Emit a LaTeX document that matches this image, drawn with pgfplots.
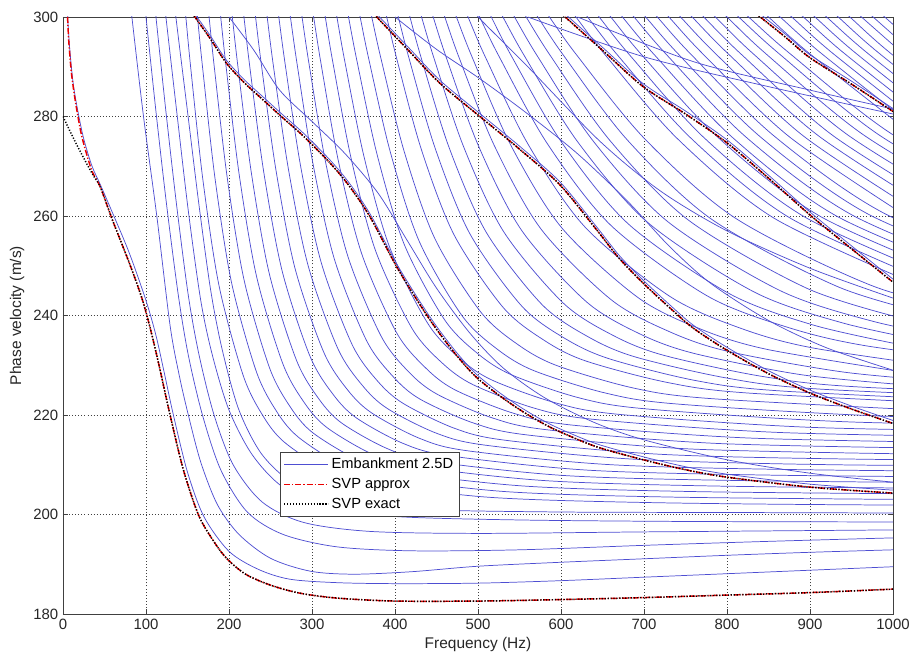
\documentclass[border=0pt]{standalone}
\usepackage{fontspec}
\setmainfont{Liberation Sans}
\usepackage{pgfplots}
\pgfplotsset{compat=1.18}
\definecolor{mblue}{RGB}{78,78,210}
\definecolor{svpred}{RGB}{235,0,0}
\pgfplotsset{
  emb/.style={mblue, line width=0.55pt, smooth},
  embf/.style={emb, forget plot},
  svpa/.style={svpred, line width=1.1pt, smooth, dash pattern=on 4.5pt off 1.5pt on 0.9pt off 1.5pt},
  svpe/.style={black, line width=1.1pt, smooth, dash pattern=on 0.9pt off 1.3pt},
}
\begin{document}
\begin{tikzpicture}
\begin{axis}[
  scale only axis, width=622.5pt, height=447.75pt,
  xmin=0, xmax=1000, ymin=180, ymax=300,
  xtick={0,100,...,1000}, ytick={180,200,...,300},
  grid=major,
  major grid style={black!75, line width=0.5pt, dash pattern=on 0.7pt off 1.6pt},
  axis line style={black!75, line width=0.5pt},
  tick style={black!75, line width=0.5pt}, tick align=inside, major tick length=4pt,
  /pgf/number format/assume math mode=true,
  /pgf/number format/1000 sep={},
  tick label style={font=\fontsize{11.2}{13}\selectfont, black!85},
  label style={font=\fontsize{11.6}{13}\selectfont, black!85},
  xlabel={Frequency (Hz)}, ylabel={Phase velocity (m/s)},
  xlabel style={at={(axis description cs:0.5,-0.0519)}, anchor=center},
  ylabel style={at={(axis description cs:-0.0552,0.5)}, anchor=center},
  legend style={at={(axis description cs:0.2614,0.2714)}, anchor=north west,
    draw=black!75, fill=white, font=\fontsize{11}{13}\selectfont, inner sep=2.5pt, row sep=1.6pt},
  legend cell align=left,
  legend image code/.code={\draw[#1] (0pt,0pt) -- (33pt,0pt);},
]
% ---- embankment 2.5D, lower family
\addplot[emb] coordinates {(4,306)(7,296)(12,287)(18,281)(25,275.5)(35,270)(45,266.3)(60,260.5)(80,252.5)(100,243)(112,236)(122,228.5)(133,220)(150,208.5)(170,199.5)(200,192.6)(235,189)(273,187)(330,186.3)(400,186.1)(500,186.2)(600,186.7)(700,187.4)(800,188.1)(900,188.8)(1000,189.5)};
\addplot[embf] coordinates {(80,305)(83,300)(97,280)(113,260)(129,238)(140,228)(151,220)(166,210.5)(186,202)(212,196)(250,191.2)(298,188.6)(350,188)(420,188.5)(500,189.6)(600,190.4)(700,191.1)(800,191.8)(900,192.4)(1000,192.9)};
\addplot[embf] coordinates {(97,305)(100,300)(112,281)(125,262)(139,244)(151,232)(168,220)(190,209)(222,200.5)(265,196)(330,193.5)(420,192.7)(550,192.9)(700,193.8)(850,194.6)(1000,195.3)};
\addplot[embf] coordinates {(109,305)(112,300)(124,281)(137,262)(151,244)(164,232)(182,220)(205,210)(240,202.5)(290,198.4)(370,196.6)(500,196.2)(700,196.5)(1000,196.9)};
\addplot[embf] coordinates {(121,305)(124,300)(137,281)(151,261)(166,243)(180,232)(200,221)(228,212)(265,205.5)(320,201.5)(400,199.6)(550,198.9)(750,198.6)(1000,198.5)};
\addplot[embf] coordinates {(133,305)(136,300)(150,281)(164,262)(178,245)(192,233)(212,221)(240,212)(280,206)(340,202.5)(430,201)(600,200.5)(800,200.4)(1000,200.3)};
% ---- group B
\addplot[embf] coordinates {(144.2,306.6)(148,300)(154,289.6)(168.6,267.2)(188.1,245.9)(217.4,227.8)(241.8,219.6)(266.2,214.6)(315,209.2)(363.8,206.6)(510,203.5)(705,202.4)(998,201.9)(1486,201.7)};
\addplot[embf] coordinates {(158.2,306.5)(162,300)(168.2,289.8)(183.2,267.5)(203.2,246.5)(233.2,228.6)(258.2,220.5)(283.2,215.6)(333.2,210.2)(383.2,207.6)(533.2,204.6)(733.2,203.5)(1033,203.0)};
\addplot[embf] coordinates {(172,306.4)(176,300)(182.3,289.9)(197.7,267.9)(218.2,247.1)(249,229.4)(274.7,221.4)(300.4,216.5)(351.7,211.3)(403,208.6)(557,205.7)(762.4,204.6)(1070,204.1)};
\addplot[embf] coordinates {(185.9,306.3)(190,300)(196.5,290)(212.3,268.3)(233.4,247.7)(265.1,230.2)(291.5,222.3)(317.8,217.5)(370.6,212.3)(423.4,209.7)(581.6,206.8)(792.7,205.7)(1109,205.2)};
\addplot[embf] coordinates {(199.8,306.3)(204,300)(210.7,290.1)(227,268.6)(248.7,248.3)(281.3,231)(308.4,223.2)(335.6,218.4)(389.9,213.3)(444.2,210.7)(607.1,207.8)(824.3,206.8)(1150,206.3)};
\addplot[embf] coordinates {(213.7,306.2)(218,300)(224.9,290.2)(241.7,269)(264.1,248.9)(297.6,231.8)(325.6,224.1)(353.6,219.4)(409.6,214.3)(465.6,211.8)(633.5,208.9)(857.3,207.9)(1193,207.4)};
\addplot[embf] coordinates {(227.6,306.1)(232,300)(239.1,290.3)(256.4,269.4)(279.5,249.5)(314.2,232.6)(343.1,225)(372,220.4)(429.7,215.3)(487.5,212.8)(660.8,210)(891.8,209)(1238,208.5)};
\addplot[embf] coordinates {(241.4,306.1)(246,300)(253.3,290.4)(271.3,269.7)(295.2,250.1)(331,233.4)(360.9,225.9)(390.8,221.3)(450.5,216.3)(510.3,213.9)(689.5,211.1)(928.5,210)(1287,209.6)};
\addplot[embf] coordinates {(255.2,306)(260,300)(267.6,290.6)(286.2,270.1)(311,250.7)(348.2,234.2)(379.1,226.8)(410.1,222.3)(472.1,217.3)(534,214.9)(719.9,212.1)(967.7,211.1)(1339,210.7)};
\addplot[embf] coordinates {(269,305.9)(274,300)(281.9,290.7)(301.2,270.5)(327,251.3)(365.6,235)(397.8,227.7)(430,223.2)(494.3,218.4)(558.7,216)(751.8,213.2)(1009.3,212.2)};
\addplot[embf] coordinates {(282.8,305.8)(288,300)(296.2,290.8)(316.4,270.8)(343.2,251.9)(383.4,235.8)(416.9,228.6)(450.5,224.2)(517.5,219.4)(584.6,217)(785.7,214.3)(1053.9,213.3)};
\addplot[embf] coordinates {(296.6,305.8)(302,300)(310.6,290.9)(331.6,271.2)(359.7,252.5)(401.7,236.6)(436.7,229.5)(471.7,225.1)(541.8,220.4)(611.8,218)(822,215.4)(1102,214.4)};
\addplot[embf] coordinates {(310.3,305.7)(316,300)(325,291)(347.1,271.6)(376.4,253.1)(420.5,237.4)(457.2,230.4)(493.9,226.1)(567.3,221.4)(640.7,219.1)(861,216.5)(1154.7,215.5)};
\addplot[embf] coordinates {(324.1,305.6)(330,300)(339.5,291.1)(362.7,271.9)(393.6,253.7)(439.9,238.3)(478.5,231.3)(517.1,227)(594.3,222.4)(671.5,220.1)(903.2,217.5)(1212,216.6)};
\addplot[embf] coordinates {(337.7,305.5)(344,300)(354,291.3)(378.5,272.3)(411.1,254.3)(459.9,239.1)(500.7,232.2)(541.4,228)(622.9,223.4)(704.3,221.2)(948.8,218.6)(1274.6,217.7)};
\addplot[embf] coordinates {(351.3,305.5)(358,300)(368.6,291.4)(394.6,272.7)(429.2,254.9)(481,239.9)(524.2,233.1)(567.5,228.9)(653.9,224.4)(740.4,222.2)(999.8,219.7)(1345.7,218.75)};
\addplot[embf] coordinates {(364.9,305.4)(372,300)(383.3,291.5)(411,273)(447.9,255.5)(503.3,240.7)(549.4,234)(595.5,229.9)(687.8,225.4)(780.1,223.3)(1056.8,220.8)};
% ---- group C
\addplot[embf] coordinates {(382.4,305.3)(390,300)(402.1,291.6)(431.7,273.4)(471.2,256.2)(530.4,241.6)(579.8,235)(629.1,230.9)(727.8,226.55)(826.5,224.4)(1122.5,221.9)};
\addplot[embf] coordinates {(395.9,305.3)(404,300)(416.9,291.7)(448.4,273.6)(490.3,256.4)(553.2,241.8)(605.6,235.3)(658.1,231.3)(762.9,226.9)(867.8,224.8)(1182,222.3)};
\addplot[embf] coordinates {(409.4,305.3)(418,300)(431.7,291.7)(465.3,273.7)(510,256.7)(577.1,242.2)(632.9,235.7)(688.8,231.7)(800.6,227.4)(912.4,225.2)(1247.8,222.8)};
\addplot[embf] coordinates {(422.8,305.2)(432,300)(446.8,291.8)(482.7,273.9)(530.7,256.9)(602.7,242.5)(662.7,236)(722.6,232.05)(842.6,227.75)(962.5,225.6)(1322,223.2)};
\addplot[embf] coordinates {(436,305.2)(446,300)(461.9,291.8)(500.8,274)(552.6,257.1)(630.3,242.8)(695,236.3)(759.8,232.4)(889.3,228.1)(1018.8,226)};
\addplot[embf] coordinates {(449.2,305.2)(460,300)(477.3,291.8)(519.5,274.2)(575.8,257.4)(660.2,243.2)(730.6,236.75)(800.9,232.8)(941.6,228.6)(1082.3,226.5)};
\addplot[embf] coordinates {(462.1,305.1)(474,300)(493,291.9)(539.3,274.3)(601,257.6)(693.6,243.5)(770.7,237.1)(847.9,233.2)(1002.2,228.9)};
\addplot[embf] coordinates {(474.8,305.1)(488,300)(509,291.9)(560.4,274.4)(628.8,257.8)(731.5,243.8)(817,237.4)(902.6,233.5)(1073.7,229.3)};
\addplot[embf] coordinates {(487.2,305.1)(502,300)(525.6,292)(583.3,274.6)(660.2,258.1)(775.5,244)(871.6,237.7)(967.7,233.9)(1160,229.7)};
\addplot[embf] coordinates {(500.5,305.1)(516,300)(540.8,292)(601.2,274.7)(681.8,258.3)(802.7,244.4)(903.5,238.1)(1004.2,234.3)};
\addplot[embf] coordinates {(513.6,305)(530,300)(556.2,292.1)(620.1,274.9)(705.2,258.6)(833,244.7)(939.4,238.5)(1045.9,234.65)};
\addplot[embf] coordinates {(526.7,305)(544,300)(571.7,292.1)(639.1,275)(729.1,258.8)(864,245)(976.5,238.8)(1089,235)};
\addplot[embf] coordinates {(539.7,305)(558,300)(587.3,292.2)(658.8,275.2)(754.1,259.1)(897.1,245.4)(1016.3,239.2)};
\addplot[embf] coordinates {(552.4,304.9)(572,300)(603.4,292.2)(679.8,275.3)(781.8,259.3)(934.7,245.7)(1062.2,239.5)};
\addplot[embf] coordinates {(565,304.9)(586,300)(619.6,292.2)(701.5,275.4)(810.7,259.5)(974.5,246)(1111,239.85)};
% ---- group D
\addplot[embf] coordinates {(595.7,304.9)(618,300)(653.6,292.3)(740.5,275.5)(856.3,259.6)(1030,246.1)};
\addplot[embf] coordinates {(609.3,304.9)(632,300)(668.3,292.3)(756.8,275.6)(874.9,259.7)(1051.9,246.2)};
\addplot[embf] coordinates {(622.8,304.9)(646,300)(683,292.3)(773.2,275.6)(893.6,259.8)(1074,246.4)};
\addplot[embf] coordinates {(636.4,304.9)(660,300)(697.7,292.3)(789.8,275.7)(912.6,259.9)(1096.7,246.5)};
\addplot[embf] coordinates {(649.9,304.9)(674,300)(712.5,292.4)(806.5,275.8)(931.8,260)(1119.7,246.7)};
\addplot[embf] coordinates {(663.4,304.8)(688,300)(727.3,292.4)(823.3,275.8)(951.2,260.15)(1143,246.8)};
\addplot[embf] coordinates {(676.8,304.8)(702,300)(742.2,292.4)(840.2,275.9)(970.9,260.3)(1166.9,247)};
\addplot[embf] coordinates {(690.3,304.8)(716,300)(757.1,292.4)(857.3,276)(990.9,260.4)(1191,247.1)};
\addplot[embf] coordinates {(703.7,304.8)(730,300)(772,292.4)(874.5,276)(1011.1,260.5)};
\addplot[embf] coordinates {(717.1,304.8)(744,300)(787,292.5)(891.9,276.1)(1031.8,260.6)};
\addplot[embf] coordinates {(730.4,304.8)(758,300)(802.1,292.5)(909.5,276.2)(1052.8,260.7)};
\addplot[embf] coordinates {(743.7,304.8)(772,300)(817.2,292.5)(927.3,276.2)(1074.2,260.8)};
\addplot[embf] coordinates {(757,304.7)(786,300)(832.3,292.5)(945.4,276.3)(1096,260.9)};
\addplot[embf] coordinates {(770.2,304.7)(800,300)(847.6,292.5)(963.6,276.4)(1118,261)};
\addplot[embf] coordinates {(783.4,304.7)(814,300)(862.9,292.6)(982.2,276.4)(1141,261.1)};
\addplot[embf] coordinates {(794.6,304.7)(826,300)(876.1,292.6)(998.3,276.5)(1165,261.3)};
% ---- group E
\addplot[embf] coordinates {(818.9,304.7)(850,300)(899.8,292.6)(1021.1,276.7)};
\addplot[embf] coordinates {(833,304.6)(864,300)(913.5,292.7)(1034.3,276.8)};
\addplot[embf] coordinates {(847.1,304.6)(878,300)(927.4,292.7)(1047.9,276.8)};
\addplot[embf] coordinates {(861.2,304.6)(892,300)(941.2,292.7)(1061.2,276.9)};
\addplot[embf] coordinates {(875.3,304.6)(906,300)(955,292.75)(1074.4,277)};
\addplot[embf] coordinates {(889.5,304.6)(920,300)(968.8,292.8)(1087.6,277.1)};
\addplot[embf] coordinates {(903.6,304.6)(934,300)(982.6,292.8)(1101,277.2)};
\addplot[embf] coordinates {(917.7,304.5)(948,300)(996.4,292.8)(1114,277.3)};
\addplot[embf] coordinates {(931.8,304.5)(962,300)(1010.2,292.9)};
\addplot[embf] coordinates {(946,304.5)(976,300)(1024,292.9)};
\addplot[embf] coordinates {(960,304.5)(990,300)(1037.8,292.9)};
% ---- shallow crossing modes
\addplot[embf] coordinates {(200,300)(230,293.3)(261,285.3)(300,279)(340,272.5)(380,264.5)(415,255)(450,245.5)(490,236.5)(530,229.5)(580,223.5)(640,218.5)(700,215)(800,211)(900,208.3)(1000,206.5)};
\addplot[embf] coordinates {(400,300)(450,293.5)(503,287.5)(560,280.5)(620,272.5)(680,263)(730,254)(780,246.5)(850,239)(920,233.5)(1000,229)};
\addplot[embf] coordinates {(490,302)(506,299)(560,290)(647,275)(720,265)(800,257)(900,249.5)(1000,243.5)};
\addplot[embf] coordinates {(560,300)(700,292)(850,286)(1000,280.5)};
\addplot[embf] coordinates {(620,300)(760,291)(900,285.3)(1000,281.5)};
% ---- embankment modes next to the SVP branches
\addplot[embf] coordinates {(150,302.8)(159,300.6)(178,296.1)(197,291.3)(219,287.3)(240,284.1)(261,280.9)(290,276.6)(322,271.2)(345,266.6)(370,260.4)(402,250.4)(430,242.8)(451,237.6)(475,232.4)(498,228.2)(525,224.6)(551,221.6)(575,219.2)(599,217.2)(643,214.2)(699,211.6)(750,209.6)(800,208.1)(900,206.1)(1000,204.9)};
\addplot[embf] coordinates {(368,302.4)(378,300.6)(415,294.1)(454,287.3)(500,280.9)(551,273.9)(599,266.8)(643,257.8)(670,252.1)(699,247.1)(730,242.3)(759,238.1)(800,233.6)(850,228.9)(900,225)(950,221.8)(1000,218.9)};
\addplot[embf] coordinates {(595,302.1)(605,300.6)(650,293.9)(699,286.6)(750,281.1)(800,275.3)(850,268.2)(900,260.8)(950,254)(1000,247.3)};
\addplot[embf] coordinates {(830,301.9)(840,300.6)(870,296.6)(900,292.4)(950,287.1)(1000,281.6)};
% ---- SVP approx
\addplot[svpa] coordinates {(5.5,300)(7,295)(10,289)(14,284)(18,280)(22,276.5)(27,273.3)(35,269)(45,265.8)(60,259)(80,250.5)(95,243.5)(105,237.5)(115,230.5)(129,220)(145,209)(163,200)(180,195)(197,191.2)(220,188)(250,185.8)(285,184.2)(330,183.2)(400,182.6)(500,182.6)(600,182.9)(700,183.3)(800,183.8)(900,184.3)(1000,185)};
\addplot[svpa, forget plot] coordinates {(150,302.2)(159,300)(178,295.5)(197,290.7)(219,286.7)(240,283.5)(261,280.3)(290,276)(322,270.6)(345,266)(370,259.8)(402,249.8)(430,242.2)(451,237)(475,231.8)(498,227.6)(525,224)(551,221)(575,218.6)(599,216.6)(643,213.6)(699,211)(750,209)(800,207.5)(900,205.5)(1000,204.3)};
\addplot[svpa, forget plot] coordinates {(368,301.8)(378,300)(415,293.5)(454,286.7)(500,280.3)(551,273.3)(599,266.2)(643,257.2)(670,251.5)(699,246.5)(730,241.7)(759,237.5)(800,233)(850,228.3)(900,224.4)(950,221.2)(1000,218.3)};
\addplot[svpa, forget plot] coordinates {(595,301.5)(605,300)(650,293.3)(699,286)(750,280.5)(800,274.7)(850,267.6)(900,260.2)(950,253.4)(1000,246.7)};
\addplot[svpa, forget plot] coordinates {(830,301.3)(840,300)(870,296)(900,291.8)(950,286.5)(1000,281)};
% ---- SVP exact
\addplot[svpe] coordinates {(0,280)(8,277.2)(16,274.5)(27,271)(37,268)(45,265.8)(60,259)(80,250.5)(95,243.5)(105,237.5)(115,230.5)(129,220)(145,209)(163,200)(180,195)(197,191.2)(220,188)(250,185.8)(285,184.2)(330,183.2)(400,182.6)(500,182.6)(600,182.9)(700,183.3)(800,183.8)(900,184.3)(1000,185)};
\addplot[svpe, forget plot] coordinates {(150,302.2)(159,300)(178,295.5)(197,290.7)(219,286.7)(240,283.5)(261,280.3)(290,276)(322,270.6)(345,266)(370,259.8)(402,249.8)(430,242.2)(451,237)(475,231.8)(498,227.6)(525,224)(551,221)(575,218.6)(599,216.6)(643,213.6)(699,211)(750,209)(800,207.5)(900,205.5)(1000,204.3)};
\addplot[svpe, forget plot] coordinates {(368,301.8)(378,300)(415,293.5)(454,286.7)(500,280.3)(551,273.3)(599,266.2)(643,257.2)(670,251.5)(699,246.5)(730,241.7)(759,237.5)(800,233)(850,228.3)(900,224.4)(950,221.2)(1000,218.3)};
\addplot[svpe, forget plot] coordinates {(595,301.5)(605,300)(650,293.3)(699,286)(750,280.5)(800,274.7)(850,267.6)(900,260.2)(950,253.4)(1000,246.7)};
\addplot[svpe, forget plot] coordinates {(830,301.3)(840,300)(870,296)(900,291.8)(950,286.5)(1000,281)};
\legend{Embankment 2.5D, SVP approx, SVP exact}
\coordinate (ll) at (rel axis cs:0,0);
\coordinate (ur) at (rel axis cs:1,1);
\end{axis}
\pgfresetboundingbox
\path ([xshift=-47.25pt,yshift=-30.75pt]ll) rectangle ([xshift=12pt,yshift=12.75pt]ur);
\end{tikzpicture}
\end{document}
